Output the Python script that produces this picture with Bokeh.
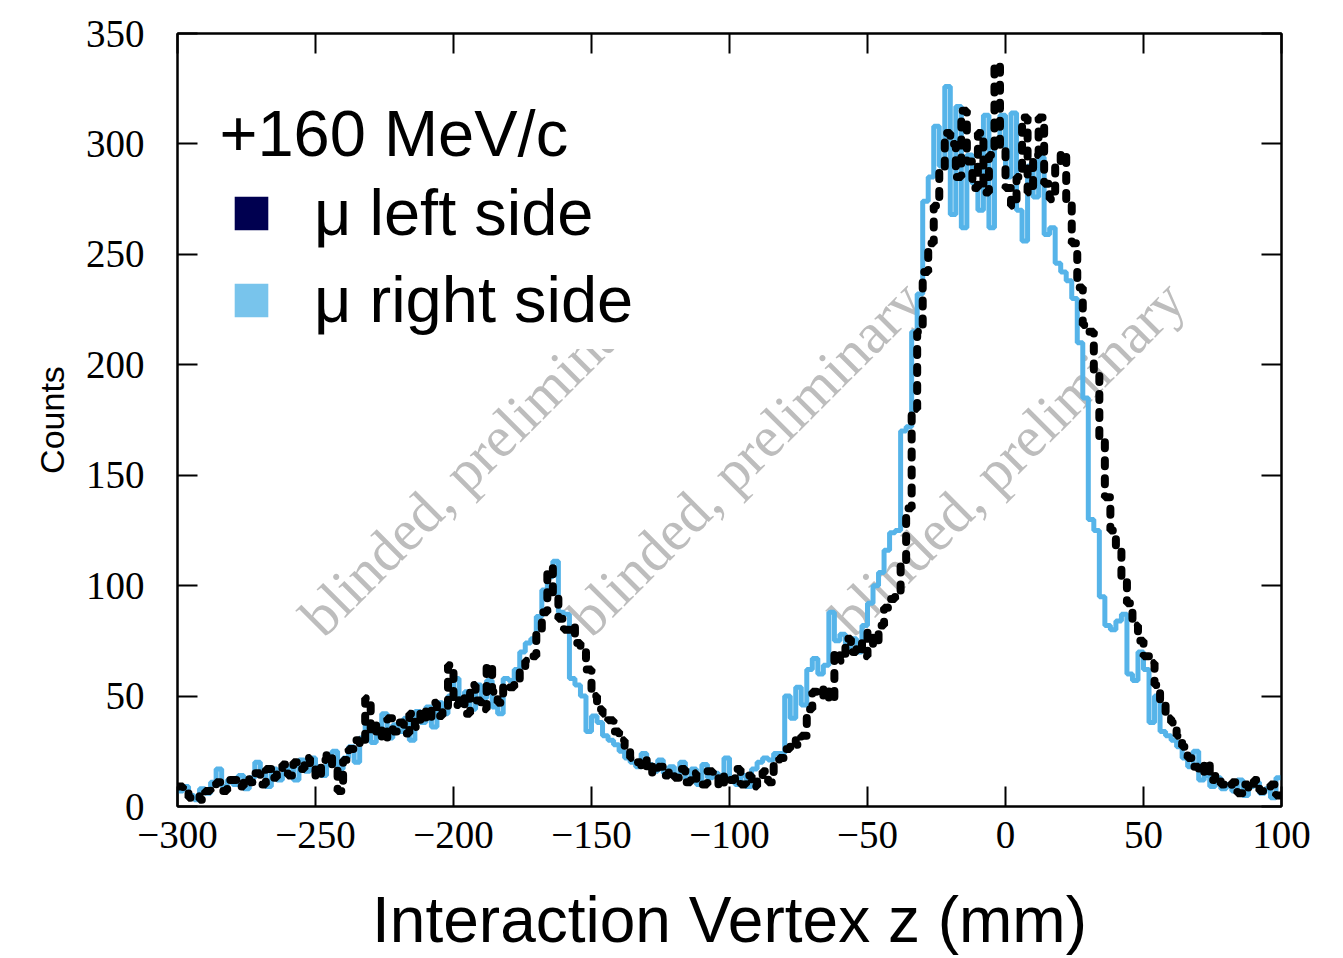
import numpy as np
from bokeh.plotting import figure
from bokeh.models import (Range1d, LinearAxis, FixedTicker, Legend, LegendItem, Label,
                          CustomLabelingPolicy)
from bokeh.embed import file_html
from bokeh.resources import INLINE

# ---- data (2 mm bins from -300 mm to 100 mm) ----
bin_start = -300
bin_width = 2

right_side = [
    7, 9, 5, 3, 8, 6, 11, 17, 9, 12,
    10, 14, 8, 13, 20, 15, 9, 17, 12, 15,
    18, 12, 21, 16, 22, 18, 14, 21, 25, 17,
    22, 27, 20, 31, 38, 29, 35, 42, 31, 37,
    34, 40, 30, 43, 38, 45, 36, 47, 42, 50,
    58, 47, 52, 44, 55, 49, 57, 45, 42, 58,
    57, 62, 70, 74, 76, 86, 98, 104, 111, 88,
    87, 58, 55, 50, 34, 41, 38, 32, 30, 28,
    25, 22, 20, 18, 24, 19, 16, 21, 15, 18,
    14, 20, 12, 17, 10, 19, 13, 15, 11, 22,
    12, 10, 14, 9, 17, 20, 22, 21, 24, 24,
    50, 40, 54, 46, 62, 67, 60, 64, 88, 75,
    78, 72, 76, 70, 82, 92, 100, 106, 116, 124,
    125, 170, 172, 215, 232, 274, 285, 308, 290, 326,
    268, 317, 262, 295, 282, 270, 313, 262, 300, 313,
    285, 314, 270, 256, 290, 276, 294, 259, 262, 246,
    242, 238, 230, 210, 185, 130, 125, 95, 82, 80,
    84, 87, 60, 57, 70, 62, 38, 50, 34, 32,
    30, 27, 22, 18, 25, 12, 14, 9, 13, 8,
    10, 7, 12, 5, 9, 11, 6, 8, 4, 13,
]

left_side = [
    9, 6, 4, 5, 3, 7, 10, 11, 7, 12,
    12, 9, 13, 11, 15, 10, 17, 13, 16, 19,
    14, 20, 17, 22, 18, 13, 21, 24, 19, 7,
    21, 26, 30, 28, 49, 33, 37, 30, 40, 34,
    38, 33, 42, 36, 44, 39, 47, 41, 45, 64,
    46, 50, 42, 55, 48, 44, 64, 52, 47, 55,
    54, 57, 62, 66, 68, 80, 88, 108, 95, 85,
    80, 82, 74, 70, 62, 50, 44, 42, 39, 34,
    30, 27, 22, 20, 17, 21, 15, 18, 14, 16,
    13, 17, 11, 15, 12, 10, 16, 13, 9, 14,
    12, 17, 10, 14, 9, 13, 16, 11, 19, 22,
    26, 30, 28, 32, 44, 52, 50, 54, 48, 70,
    66, 76, 70, 74, 68, 79, 73, 82, 90, 94,
    95, 110, 135, 180, 215, 242, 255, 272, 287, 305,
    300, 285, 315, 292, 280, 305, 278, 295, 336, 298,
    280, 272, 285, 312, 278, 295, 312, 282, 275, 290,
    296, 275, 255, 235, 218, 215, 195, 165, 140, 125,
    118, 102, 92, 82, 75, 68, 65, 55, 48, 40,
    38, 32, 27, 22, 18, 15, 20, 12, 14, 10,
    9, 11, 6, 10, 8, 12, 7, 9, 10, 5,
]

x_ticks = [-300, -250, -200, -150, -100, -50, 0, 50, 100]
x_tick_labels = ["\u2212300", "\u2212250", "\u2212200", "\u2212150", "\u2212100", "\u221250", "0", "50", "100"]
y_ticks = [0, 50, 100, 150, 200, 250, 300, 350]
y_tick_labels = ["0", "50", "100", "150", "200", "250", "300", "350"]

x_title = "Interaction Vertex z (mm)"
y_title = "Counts"
legend_title = "+160 MeV/c"
series_labels = ["\u03bc left side", "\u03bc right side"]
watermark = "blinded, preliminary"
watermark_x = [-252, -155, -60]
watermark_y = [82, 82, 82]

# ---- figure ----
p = figure(width=1343, height=958, output_backend="svg", toolbar_location=None,
           x_range=Range1d(-300, 100), y_range=Range1d(0, 350),
           min_border_left=177, min_border_right=62, min_border_top=33, min_border_bottom=151)
p.grid.visible = False
p.background_fill_color = "white"
p.border_fill_color = "white"
p.outline_line_color = "black"
p.outline_line_width = 2

SERIF = "Liberation Serif"
SANS = "Liberation Sans"

def style_axis(ax, ticks, labels, show_labels):
    ax.ticker = FixedTicker(ticks=ticks)
    ax.major_label_overrides = {t: l for t, l in zip(ticks, labels)}
    ax.major_tick_in = 20
    ax.major_tick_out = 0
    ax.minor_tick_in = 0
    ax.minor_tick_out = 0
    ax.major_tick_line_width = 2
    ax.axis_line_width = 2
    ax.major_label_text_font = SERIF
    ax.major_label_text_color = "black"
    if show_labels:
        ax.major_label_text_font_size = "39px"
    else:
        ax.major_label_text_font_size = "2px"
        ax.major_label_standoff = 0
        ax.major_label_policy = CustomLabelingPolicy(code="return new Set()")

style_axis(p.xaxis[0], x_ticks, x_tick_labels, True)
style_axis(p.yaxis[0], y_ticks, y_tick_labels, True)
p.xaxis[0].major_label_standoff = 15
p.yaxis[0].major_label_standoff = 33

p.yaxis[0].axis_label = y_title
p.yaxis[0].axis_label_text_font = SANS
p.yaxis[0].axis_label_text_font_size = "34px"
p.yaxis[0].axis_label_text_font_style = "normal"
p.yaxis[0].axis_label_text_color = "black"
p.yaxis[0].axis_label_standoff = 12

p.xaxis[0].axis_label = x_title
p.xaxis[0].axis_label_text_font = SANS
p.xaxis[0].axis_label_text_font_size = "64px"
p.xaxis[0].axis_label_text_font_style = "normal"
p.xaxis[0].axis_label_text_color = "black"
p.xaxis[0].axis_label_standoff = 33

top_ax = LinearAxis()
style_axis(top_ax, x_ticks, x_tick_labels, False)
p.add_layout(top_ax, "above")
right_ax = LinearAxis()
style_axis(right_ax, y_ticks, y_tick_labels, False)
p.add_layout(right_ax, "right")

# ---- watermarks (under the data) ----
for wx, wy in zip(watermark_x, watermark_y):
    p.add_layout(Label(x=wx, y=wy, text=watermark, angle=np.pi / 4,
                       text_font=SERIF, text_font_size="58px", text_color="#bdbdbd",
                       text_baseline="alphabetic", level="underlay"))

# ---- histograms ----
edges = bin_start + bin_width * np.arange(len(right_side) + 1)
p.step(edges, right_side + [right_side[-1]], mode="after",
       line_color="#56b4e9", line_width=5)
p.step(edges, left_side + [left_side[-1]], mode="after",
       line_color="black", line_width=8, line_dash="6 12", line_cap="round")

# ---- legend (colour swatches; the dummy quads lie outside the visible range) ----
r_left = p.quad(left=[-400], right=[-399], top=[-9], bottom=[-10],
                fill_color="#000050", line_alpha=0)
r_right = p.quad(left=[-400], right=[-399], top=[-9], bottom=[-10],
                 fill_color="#78c4ec", line_alpha=0)
legend = Legend(items=[LegendItem(label=series_labels[0], renderers=[r_left]),
                       LegendItem(label=series_labels[1], renderers=[r_right])],
                location=(41, 457),
                label_text_font=SANS, label_text_font_size="65px", label_text_color="black",
                glyph_width=42, glyph_height=42, label_standoff=42, spacing=12,
                label_width=380, padding=12, margin=0,
                border_line_alpha=0, background_fill_color="white", background_fill_alpha=1)
p.add_layout(legend)

p.add_layout(Label(x=-284.8, y=304.8, text=legend_title, text_font=SANS,
                   text_font_size="65px", text_color="black", text_baseline="alphabetic"))

open("out.html", "w").write(file_html(p, INLINE))
